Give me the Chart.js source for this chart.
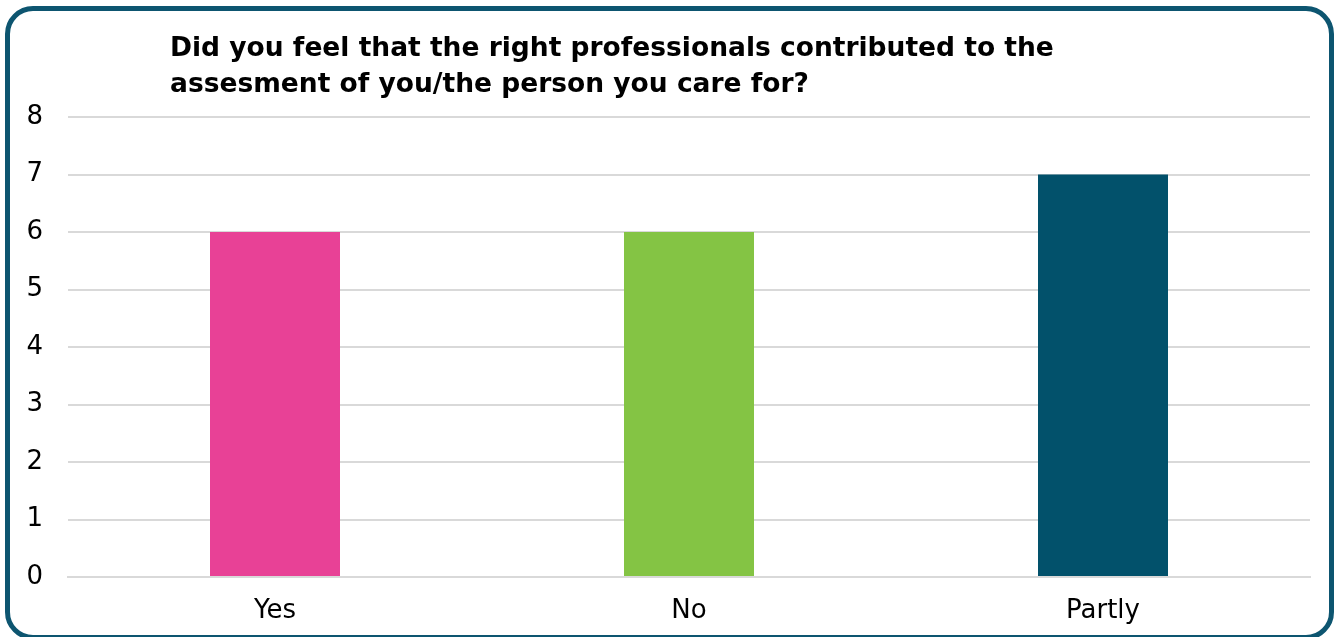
<!DOCTYPE html>
<html>
<head>
<meta charset="utf-8">
<script src="https://cdn.jsdelivr.net/npm/chart.js@4/dist/chart.umd.min.js"></script>
<style>
  html, body { margin: 0; padding: 0; background: #ffffff; }
  #wrap { position: relative; width: 1334px; height: 637px; overflow: hidden; }
  #frame {
    position: absolute; left: 5px; top: 6px; width: 1319px; height: 624px;
    border: 5px solid #0d5570; border-radius: 28px; box-sizing: content-box;
  }
  #c { position: absolute; left: 0; top: 0; }
</style>
</head>
<body>
<div id="wrap">
  <div id="frame"></div>
  <canvas id="c" width="1334" height="637"></canvas>
</div>
<script>
const titleLines = [
  'Did you feel that the right professionals contributed to the',
  'assesment of you/the person you care for?'
];
const categories = ['Yes', 'No', 'Partly'];
const responses = [6, 6, 7];
const barColors = ['#e84196', '#84c444', '#02516b'];
const yTicks = [0, 1, 2, 3, 4, 5, 6, 7, 8];

const FONT = "'DejaVu Sans', Verdana, sans-serif";

// Left-aligned two-line title above the plot area
const titlePlugin = {
  id: 'leftTitle',
  afterDraw(chart) {
    const ctx = chart.ctx;
    ctx.save();
    ctx.fillStyle = '#000000';
    ctx.font = 'bold 26.5px ' + FONT;
    ctx.textBaseline = 'alphabetic';
    ctx.textAlign = 'left';
    titleLines.forEach((line, i) => ctx.fillText(line, 170, 56 + i * 36));
    ctx.restore();
  }
};

new Chart(document.getElementById('c'), {
  type: 'bar',
  data: {
    labels: categories,
    datasets: [{
      data: responses,
      backgroundColor: barColors,
      borderWidth: 0,
      categoryPercentage: 1,
      barPercentage: 0.314
    }]
  },
  options: {
    responsive: false,
    animation: false,
    devicePixelRatio: 1,
    layout: { padding: { left: 0, right: 24, top: 117, bottom: 0 } },
    plugins: { legend: { display: false }, tooltip: { enabled: false }, title: { display: false } },
    scales: {
      x: {
        grid: { display: false, drawTicks: false },
        border: { display: true, color: '#d9d9d9', width: 2 },
        ticks: { color: '#000000', font: { family: FONT, size: 26 }, padding: 19 },
        afterFit(scale) { scale.height = 60; }
      },
      y: {
        min: 0, max: 8,
        afterBuildTicks(scale) { scale.ticks = yTicks.map(v => ({ value: v })); },
        grid: { color: '#d9d9d9', lineWidth: 2, drawTicks: false },
        border: { display: false },
        ticks: { color: '#000000', font: { family: FONT, size: 26 }, padding: 25 },
        afterFit(scale) { scale.width = 68; }
      }
    }
  },
  plugins: [titlePlugin]
});
</script>
</body>
</html>
